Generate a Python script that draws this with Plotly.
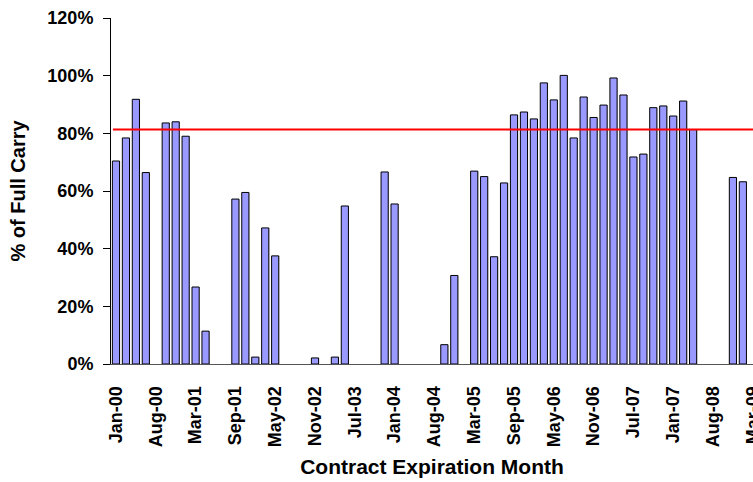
import plotly.graph_objects as go

months = [
    "Jan-00", "Mar-00", "May-00", "Jul-00", "Aug-00", "Sep-00", "Nov-00",
    "Jan-01", "Mar-01", "May-01", "Jul-01", "Aug-01", "Sep-01", "Nov-01",
    "Jan-02", "Mar-02", "May-02", "Jul-02", "Aug-02", "Sep-02", "Nov-02",
    "Jan-03", "Mar-03", "May-03", "Jul-03", "Aug-03", "Sep-03", "Nov-03",
    "Jan-04", "Mar-04", "May-04", "Jul-04", "Aug-04", "Sep-04", "Nov-04",
    "Jan-05", "Mar-05", "May-05", "Jul-05", "Aug-05", "Sep-05", "Nov-05",
    "Jan-06", "Mar-06", "May-06", "Jul-06", "Aug-06", "Sep-06", "Nov-06",
    "Jan-07", "Mar-07", "May-07", "Jul-07", "Aug-07", "Sep-07", "Nov-07",
    "Jan-08", "Mar-08", "May-08", "Jul-08", "Aug-08", "Sep-08", "Nov-08",
    "Jan-09", "Mar-09",
]

pct_full_carry = [
    0.704, 0.784, 0.918, 0.664, None, 0.836, 0.840,
    0.790, 0.267, 0.114, None, None, 0.572, 0.595,
    0.024, 0.472, 0.375, None, None, None, 0.021,
    None, 0.024, 0.548, None, None, None, 0.666,
    0.555, None, None, None, None, 0.067, 0.307,
    None, 0.669, 0.650, 0.372, 0.628, 0.864, 0.874,
    0.850, 0.975, 0.916, 1.001, 0.784, 0.926, 0.855,
    0.898, 0.992, 0.933, 0.718, 0.728, 0.889, 0.895,
    0.860, 0.912, 0.813, None, None, None, 0.647,
    0.632, None,
]

tick_labels = [
    "Jan-00", "Aug-00", "Mar-01", "Sep-01", "May-02", "Nov-02", "Jul-03",
    "Jan-04", "Aug-04", "Mar-05", "Sep-05", "May-06", "Nov-06", "Jul-07",
    "Jan-07", "Aug-08", "Mar-09",
]

average_level = 0.813

x_pos = list(range(len(months)))
tick_pos = x_pos[::4]

FONT = "Liberation Sans, Arial, sans-serif"

fig = go.Figure()

# subtle drop shadow
fig.add_trace(go.Bar(
    x=x_pos, y=pct_full_carry, width=0.72, offset=-0.30,
    marker=dict(color="rgba(0,0,0,0.25)", line=dict(width=0)),
    hoverinfo="skip", showlegend=False,
))
fig.add_trace(go.Bar(
    x=x_pos, y=pct_full_carry, width=0.72,
    marker=dict(color="#9999FF", line=dict(color="black", width=1)),
    customdata=months, hovertemplate="%{customdata}: %{y:.0%}<extra></extra>",
    showlegend=False,
))

fig.add_shape(type="line", xref="paper", x0=0.003, x1=1, yref="y",
              y0=average_level, y1=average_level,
              line=dict(color="#FF0000", width=2))

fig.update_layout(
    width=753, height=482,
    margin=dict(l=111, r=0, t=18, b=118),
    paper_bgcolor="white", plot_bgcolor="white",
    barmode="overlay", bargap=0.3,
    font=dict(family=FONT, color="black", size=18, weight="bold"),
    xaxis=dict(
        range=[-0.5, 64.02], automargin=False,
        tickmode="array", tickvals=tick_pos, ticktext=tick_labels,
        tickangle=-90, ticks="", ticklabelstandoff=14,
        ticklabeloverflow="allow",
        showline=True, linecolor="#555555", linewidth=1,
        showgrid=False, zeroline=False,
        tickfont=dict(family=FONT, size=18, weight="bold"),
        title=dict(text="Contract Expiration Month",
                   font=dict(family=FONT, size=21, weight="bold"),
                   standoff=13),
    ),
    yaxis=dict(
        range=[0, 1.2], tickmode="array", automargin=False,
        tickvals=[0, 0.2, 0.4, 0.6, 0.8, 1.0, 1.2],
        tickformat=".0%",
        ticks="outside", ticklen=7, tickcolor="black",
        ticklabelstandoff=6,
        showline=True, linecolor="black", linewidth=1,
        showgrid=False, zeroline=False,
        tickfont=dict(family=FONT, size=18, weight="bold"),
        title=dict(text="% of Full Carry",
                   font=dict(family=FONT, size=20, weight="bold"),
                   standoff=16),
    ),
)

fig.write_html(
    "out.html",
    config={"displayModeBar": False},
    post_script="document.body.style.margin='0';document.body.style.overflow='hidden';",
)
